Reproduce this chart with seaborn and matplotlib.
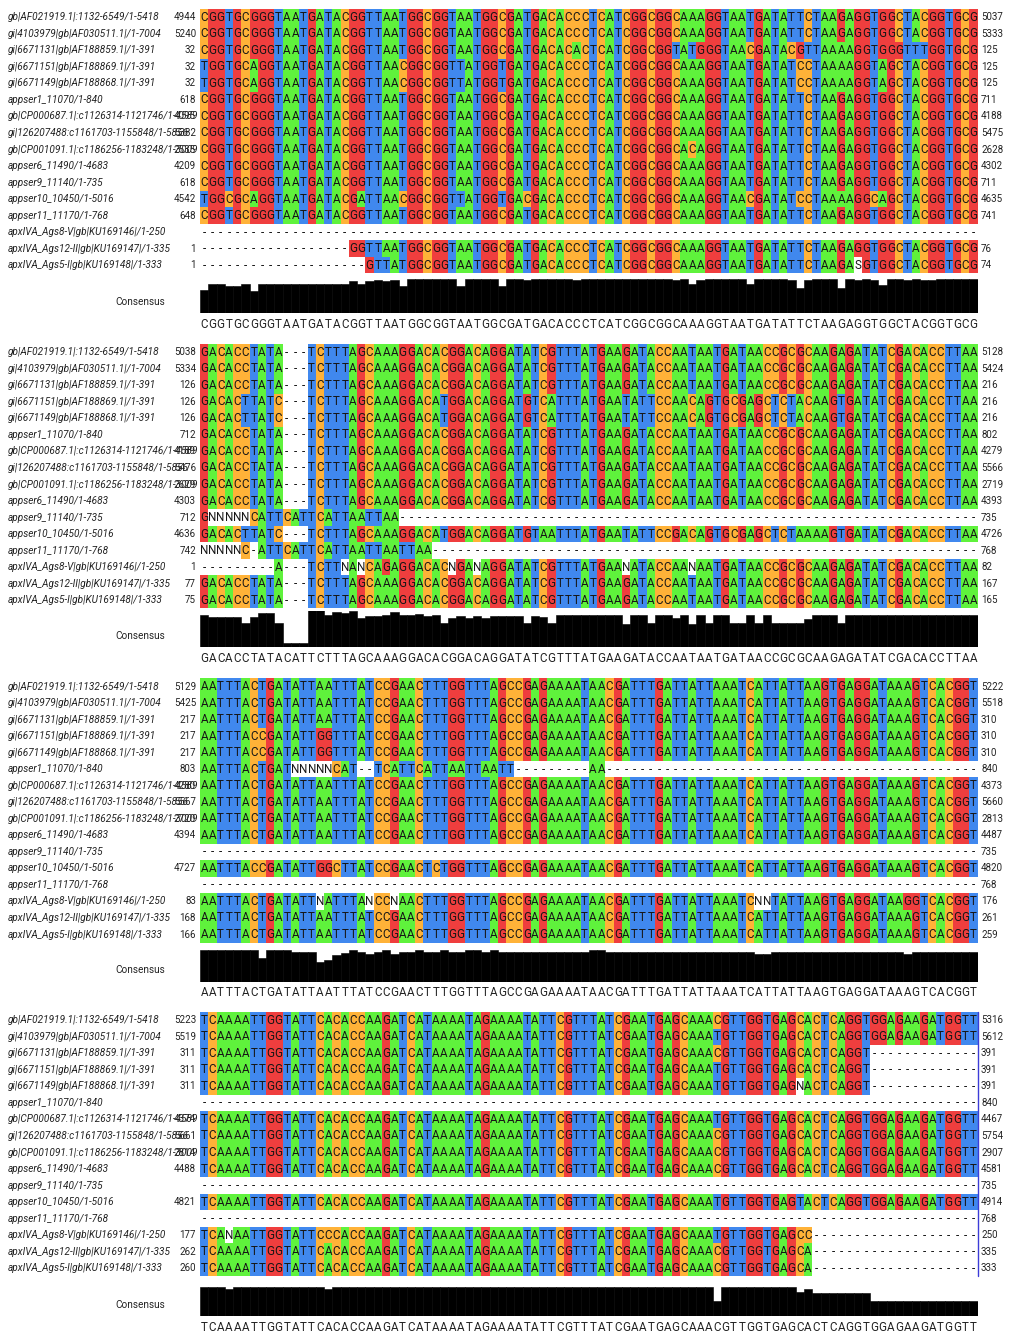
# Multiple alignment figure, four blocks of 94 columns with consensus histogram
import numpy as np
import pandas as pd
import matplotlib
matplotlib.use("Agg")
import matplotlib.pyplot as plt
import seaborn as sns
from matplotlib.colors import ListedColormap
from matplotlib.transforms import blended_transform_factory

names = ["gb|AF021919.1|:1132-6549/1-5418", "gi|4103979|gb|AF030511.1|/1-7004",
         "gi|6671131|gb|AF188859.1|/1-391", "gi|6671151|gb|AF188869.1|/1-391",
         "gi|6671149|gb|AF188868.1|/1-391", "appser1_11070/1-840",
         "gb|CP000687.1|:c1126314-1121746/1-4589", "gi|126207488:c1161703-1155848/1-5856",
         "gb|CP001091.1|:c1186256-1183248/1-3009", "appser6_11490/1-4683",
         "appser9_11140/1-735", "appser10_10450/1-5016", "appser11_11170/1-768",
         "apxIVA_Ags8-V|gb|KU169146|/1-250", "apxIVA_Ags12-II|gb|KU169147|/1-335",
         "apxIVA_Ags5-I|gb|KU169148|/1-333"]

# *******************Block 1
cons1 = "CGGTGCGGGTAATGATACGGTTAATGGCGGTAATGGCGATGACACCCTCATCGGCGGCAAAGGTAATGATATTCTAAGAGGTGGCTACGGTGCG"
v1a = "TGGTGCAGGTAATGATACGGTTAACGGCGGTTATGGTGATGACACCCTCATCGGCGGCAAAGGTAATGATATCCTAAAAGGTAGCTACGGTGCG"
seqs1 = [cons1, cons1,
         "CGGTGCGGGTAATGATACGGTTAATGGCGGTAATGGCGATGACACACTCATCGGCGGTATGGGTAACGATACGTTAAAAGGTGGGTTTGGTGCG",
         v1a, v1a, cons1, cons1, cons1,
         "CGGTGCGGGTAATGATACGGTTAATGGCGGTAATGGCGATGACACCCTCATCGGCGGCACAGGTAATGATATTCTAAGAGGTGGCTACGGTGCG",
         cons1, cons1,
         "TGGCGCAGGTAATGATACGATTAACGGCGGTTATGGTGACGACACCCTCATCGGCGGCAAAGGTAACGATATCCTAAAAGGCAGCTACGGTGCG",
         cons1, "-" * 94,
         "-" * 18 + cons1[18:],
         "-" * 20 + "GTTATGGCGG" + cons1[30:79] + "S" + cons1[80:]]
starts1 = ["4944", "5240", "32", "32", "32", "618", "4095", "5382", "2535", "4209", "618", "4542", "648", "", "1", "1"]
ends1 = ["5037", "5333", "125", "125", "125", "711", "4188", "5475", "2628", "4302", "711", "4635", "741", "", "76", "74"]
hist1 = [64, 79, 79, 75, 75, 79, 62, 79, 79, 79, 79, 79, 79, 79, 79, 79, 79, 79, 87, 81, 87, 92, 89, 92,
         75, 94, 94, 94, 94, 94, 94, 75, 94, 94, 94, 94, 75, 94, 94, 90, 94, 94, 94, 94, 94, 90, 94, 94,
         94, 94, 94, 94, 94, 94, 94, 94, 94, 90, 94, 81, 90, 94, 94, 94, 94, 94, 80, 94, 94, 94, 94, 90,
         68, 90, 94, 94, 94, 68, 94, 90, 94, 90, 76, 94, 94, 90, 94, 90, 90, 94, 94, 94, 94, 94]

# *******************Block 2
cons2 = "GACACCTATACATTCTTTAGCAAAGGACACGGACAGGATATCGTTTATGAAGATACCAATAATGATAACCGCGCAAGAGATATCGACACCTTAA"
row2 = "GACACCTATA---TCTTTAGCAAAGGACACGGACAGGATATCGTTTATGAAGATACCAATAATGATAACCGCGCAAGAGATATCGACACCTTAA"
v2a = "GACACTTATC---TCTTTAGCAAAGGACATGGACAGGATGTCATTTATGAATATTCCAACAGTGCGAGCTCTACAAGTGATATCGACACCTTAA"
seqs2 = [row2, row2, row2, v2a, v2a, row2, row2, row2, row2, row2,
         "GNNNNNCATTCATTCATTAATTAA" + "-" * 70,
         "GACACTTATC---TCTTTAGCAAAGGACATGGACAGGATGTAATTTATGAATATTCCGACAGTGCGAGCTCTAAAAGTGATATCGACACCTTAA",
         "NNNNNC-ATTCATTCATTAATTAATTAA" + "-" * 66,
         "---------A---TCTTNANCAGAGGACACNGANAGGATATCGTTTATGAANATACCAANAATGATAACCGCGCAAGAGATATCGACACCTTAA",
         row2, row2]
starts2 = ["5038", "5334", "126", "126", "126", "712", "4189", "5476", "2629", "4303", "712", "4636", "742", "1", "77", "75"]
ends2 = ["5128", "5424", "216", "216", "216", "802", "4279", "5566", "2719", "4393", "735", "4726", "768", "82", "167", "165"]
hist2 = [87, 84, 84, 84, 84, 67, 84, 93, 93, 67, 13, 13, 13, 101, 101, 87, 97, 93, 100, 81, 85, 85, 88, 97,
         88, 88, 90, 85, 88, 67, 79, 85, 79, 85, 79, 85, 85, 85, 85, 67, 85, 82, 67, 87, 87, 87, 87, 87,
         87, 87, 87, 64, 87, 87, 67, 87, 87, 81, 87, 64, 87, 67, 87, 87, 67, 67, 87, 67, 87, 67, 67, 67,
         67, 76, 87, 87, 87, 67, 87, 87, 87, 87, 87, 87, 87, 87, 87, 87, 87, 87, 87, 87, 87, 87]

# *******************Block 3
cons3 = "AATTTACTGATATTAATTTATCCGAACTTTGGTTTAGCCGAGAAAATAACGATTTGATTATTAAATCATTATTAAGTGAGGATAAAGTCACGGT"
v3a = "AATTTACCGATATTGGTTTATCCGAACTTTGGTTTAGCCGAGAAAATAACGATTTGATTATTAAATCATTATTAAGTGAGGATAAAGTCACGGT"
seqs3 = [cons3, cons3, cons3, v3a, v3a,
         "AATTTACTGATNNNNNCAT--TCATTCATTAATTAATT---------AA" + "-" * 45,
         cons3, cons3, cons3, cons3, "-" * 94,
         "AATTTACCGATATTGGCTTATCCGAACTCTGGTTTAGCCGAGAAAATAACGATTTGATTATTAAATCATTATTAAGTGAGGATAAAGTCACGGT",
         "-" * 94,
         "AATTTACTGATATTNATTTANCCNAACTTTGGTTTAGCCGAGAAAATAACGATTTGATTATTAAATCNNTATTAAGTGAGGATAAGGTCACGGT",
         cons3, cons3]
starts3 = ["5129", "5425", "217", "217", "217", "803", "4280", "5567", "2720", "4394", "", "4727", "", "83", "168", "166"]
ends3 = ["5222", "5518", "310", "310", "310", "840", "4373", "5660", "2813", "4487", "735", "4820", "768", "176", "261", "259"]
hist3 = [87, 87, 87, 87, 87, 87, 87, 66, 87, 87, 87, 80, 80, 80, 55, 59, 73, 77, 86, 80, 75, 82, 86, 75,
         80, 80, 86, 80, 80, 86, 80, 80, 86, 86, 80, 86, 80, 80, 80, 80, 80, 80, 80, 80, 80, 80, 80, 86,
         86, 80, 80, 80, 80, 80, 80, 80, 80, 80, 80, 80, 80, 80, 80, 80, 80, 80, 80, 75, 75, 80, 80, 80,
         80, 80, 80, 80, 80, 80, 80, 80, 80, 80, 80, 80, 80, 75, 80, 80, 80, 80, 80, 80, 80, 80]

# *******************Block 4
cons4 = "TCAAAATTGGTATTCACACCAAGATCATAAAATAGAAAATATTCGTTTATCGAATGAGCAAACGTTGGTGAGCACTCAGGTGGAGAAGATGGTT"
v4a = "TCAAAATTGGTATTCACACCAAGATCATAAAATAGAAAATATTCGTTTATCGAATGAGCAAATGTTGGTGAGCACTCAGGTGGAGAAGATGGTT"
seqs4 = [cons4, v4a, cons4[:81] + "-" * 13, v4a[:81] + "-" * 13,
         v4a[:72] + "N" + v4a[73:81] + "-" * 13, "-" * 94,
         v4a, cons4, cons4, cons4, "-" * 94,
         "TCAAAATTGGTATTCACACCAAGATCATAAAATAGAAAATATTCGTTTATCGAATGAGCAAATGTTGGTGAGTACTCAGGTGGAGAAGATGGTT",
         "-" * 94,
         "TCANAATTGGTATTCCCACCAAGATCATAAAATAGAAAATATTCGTTTATCGAATGAGCAAATGTTGGTGAGCC" + "-" * 20,
         cons4[:74] + "-" * 20, cons4[:74] + "-" * 20]
starts4 = ["5223", "5519", "311", "311", "311", "", "4374", "5661", "2814", "4488", "", "4821", "", "177", "262", "260"]
ends4 = ["5316", "5612", "391", "391", "391", "840", "4467", "5754", "2907", "4581", "735", "4914", "768", "250", "335", "333"]
hist4 = [81, 81, 81, 75, 81, 81, 81, 81, 81, 81, 81, 81, 81, 81, 81, 75, 81, 81, 81, 81, 81, 81, 81, 81,
         81, 81, 81, 81, 81, 81, 81, 81, 81, 81, 81, 81, 81, 81, 81, 81, 81, 81, 81, 81, 81, 81, 81, 81,
         81, 81, 81, 81, 81, 81, 81, 81, 81, 81, 81, 81, 81, 81, 43, 81, 81, 81, 81, 81, 81, 81, 81, 81,
         67, 75, 63, 63, 63, 63, 63, 63, 63, 43, 43, 43, 43, 43, 43, 43, 43, 43, 43, 43, 43, 43]

block_tops = [9, 344, 678.3, 1012]
bar_bottoms = [313.3, 647.3, 981.7, 1316.3]
residues = ["-", "A", "C", "G", "T"]
residue_colors = ["#ffffff", "#5ff23c", "#ffb238", "#ef3e3e", "#4088ee"]

W, H = 1010, 1339
row_h = 16.53
left, right = 200, 977.7

sns.set_theme(style="white")
plt.rcParams["font.family"] = ["Roboto", "DejaVu Sans"]
fig = plt.figure(figsize=(W / 100, H / 100), dpi=100)
cmap = ListedColormap(residue_colors)

blocks = [(seqs1, starts1, ends1, hist1, cons1), (seqs2, starts2, ends2, hist2, cons2),
          (seqs3, starts3, ends3, hist3, cons3), (seqs4, starts4, ends4, hist4, cons4)]

for b, (seqs, starts, ends, hist, cons) in enumerate(blocks):
    letters = np.array([list(s) for s in seqs])
    codes = pd.DataFrame(letters).map(lambda c: residues.index(c) if c in residues else 0)

    top = block_tops[b]
    ax = fig.add_axes([left / W, 1 - (top + 16 * row_h) / H, (right - left) / W, 16 * row_h / H])
    sns.heatmap(codes, cmap=cmap, vmin=-0.5, vmax=4.5, cbar=False, annot=letters, fmt="",
                annot_kws={"fontsize": 8.4, "color": "#161616"},
                xticklabels=False, yticklabels=False, ax=ax)

    # sequence names and start / end numbers
    trans = blended_transform_factory(fig.transFigure, ax.transData)
    for i, name in enumerate(names):
        ax.text(8 / W, i + 0.5, name, transform=trans, style="italic", fontsize=7.2,
                ha="left", va="center", color="#222222")
        ax.text(196 / W, i + 0.5, starts[i], transform=trans, fontsize=7,
                ha="right", va="center", color="#222222")
        ax.text(981 / W, i + 0.5, ends[i], transform=trans, fontsize=7,
                ha="left", va="center", color="#222222")
    if b == 3:
        ax.axvline(94, color="#3c3cd8", lw=1, clip_on=False)

    # consensus histogram
    bar_h = 110 / 3
    bx = fig.add_axes([left / W, 1 - bar_bottoms[b] / H, (right - left) / W, bar_h / H])
    hist_df = pd.DataFrame({"col": np.arange(94), "cons": hist})
    sns.barplot(data=hist_df, x="col", y="cons", color="black", width=1, saturation=1,
                edgecolor="black", linewidth=0.4, ax=bx)
    bx.set_xlim(-0.5, 93.5)
    bx.set_ylim(0, 100)
    bx.set_xticks(np.arange(94))
    bx.set_xticklabels(list(cons), fontsize=8.4, color="#222222")
    bx.tick_params(axis="x", length=0, pad=3.2)
    bx.set_yticks([])
    bx.set_xlabel("")
    bx.set_ylabel("")
    sns.despine(ax=bx, left=True, bottom=True)
    bx.text(140 / W, 0.32, "Consensus", transform=blended_transform_factory(fig.transFigure, bx.transAxes),
            fontsize=7.2, ha="center", va="center", color="#222222")

fig.savefig("out.png", dpi=100)
